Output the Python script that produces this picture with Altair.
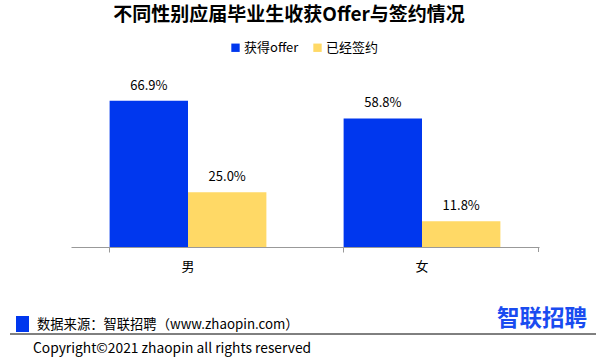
import altair as alt
import pandas as pd

genders = ["男", "女"]
series = ["获得offer", "已经签约"]
offer_values = [66.9, 58.8]
signed_values = [25.0, 11.8]
colors = ["#0037EE", "#FFD966"]

rows = []
for i, g in enumerate(genders):
    rows.append({"gender": g, "series": series[0], "value": offer_values[i], "label": f"{offer_values[i]:.1f}%"})
    rows.append({"gender": g, "series": series[1], "value": signed_values[i], "label": f"{signed_values[i]:.1f}%"})
df = pd.DataFrame(rows)

FONT = "Noto Sans CJK SC"
W, H = 468, 175

xenc = alt.X("gender:N", sort=genders,
             scale=alt.Scale(paddingInner=0.33, paddingOuter=0.165),
             axis=alt.Axis(title=None, labelAngle=0, labelFontSize=13, labelFont=FONT,
                           labelColor="#000000", labelPadding=8,
                           domainColor="#999999", tickColor="#999999", tickSize=5,
                           bandPosition=0, labelBound=False))
yenc = alt.Y("value:Q", scale=alt.Scale(domain=[0, 80]), axis=None)
xoff = alt.XOffset("series:N", sort=series, scale=alt.Scale(paddingInner=0, paddingOuter=0))

bars = alt.Chart(df).mark_bar().encode(
    x=xenc, y=yenc, xOffset=xoff,
    color=alt.Color("series:N", sort=series,
                    scale=alt.Scale(domain=series, range=colors),
                    legend=alt.Legend(title=None, orient="none", direction="horizontal",
                                      legendX=158, legendY=-31, symbolType="square",
                                      symbolSize=70, symbolStrokeWidth=0,
                                      labelFontSize=13, labelFont=FONT, labelColor="#000000",
                                      columnPadding=12, labelOffset=2))
)

labels = alt.Chart(df).mark_text(fontSize=13, font=FONT, dy=-11, baseline="alphabetic", color="#000000").encode(
    x=xenc, y=yenc, xOffset=xoff, text="label:N"
)

end_tick = alt.Chart(pd.DataFrame({"a": [0]})).mark_rule(color="#999999").encode(
    x=alt.value(W - 0.5), y=alt.value(H), y2=alt.value(H + 5)
)

title = alt.Chart(pd.DataFrame({"t": ["不同性别应届毕业生收获Offer与签约情况"]})).mark_text(
    fontSize=19, fontWeight="bold", font=FONT, color="#000000", align="center", baseline="middle"
).encode(x=alt.value(289 - 71), y=alt.value(15 - 72), text="t:N")

src_box = alt.Chart(pd.DataFrame({"a": [0]})).mark_rect(color="#0037EE").encode(
    x=alt.value(16 - 71), x2=alt.value(29 - 71), y=alt.value(316 - 72), y2=alt.value(332 - 72)
)
src_text = alt.Chart(pd.DataFrame({"t": ["数据来源：智联招聘（www.zhaopin.com）"]})).mark_text(
    fontSize=13.3, font=FONT, color="#000000", align="left", baseline="middle"
).encode(x=alt.value(37 - 71), y=alt.value(325 - 72), text="t:N")
sep = alt.Chart(pd.DataFrame({"a": [0]})).mark_rule(color="#000000", strokeWidth=1).encode(
    x=alt.value(10 - 71), x2=alt.value(596 - 71), y=alt.value(334 - 72)
)
copy_text = alt.Chart(pd.DataFrame({"t": ["Copyright©2021 zhaopin all rights reserved"]})).mark_text(
    fontSize=13.8, font=FONT, color="#000000", align="left", baseline="middle"
).encode(x=alt.value(33 - 71), y=alt.value(349 - 72), text="t:N")
logo = alt.Chart(pd.DataFrame({"t": ["智联招聘"]})).mark_text(
    fontSize=22.5, fontWeight="bold", font=FONT, color="#1A4CF0", align="left", baseline="middle"
).encode(x=alt.value(497 - 71), y=alt.value(319 - 72), text="t:N")

chart = alt.layer(bars, labels, end_tick, title, src_box, src_text, sep, copy_text, logo).properties(
    width=W, height=H,
    autosize=alt.AutoSizeParams(type="none"),
    padding={"left": 71, "top": 72, "right": 601 - 71 - W, "bottom": 358 - 72 - H},
    background="#ffffff",
).configure_view(stroke=None)

chart.save("out.html", embed_options={"renderer": "svg", "actions": False})
